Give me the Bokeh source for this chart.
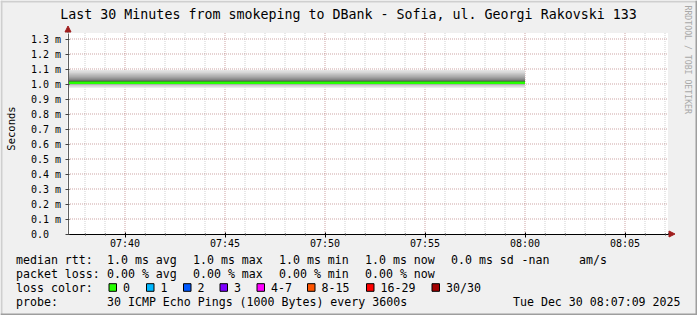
import math
from bokeh.plotting import figure
from bokeh.models import FixedTicker, Label, Arrow, NormalHead, LinearAxis, Range1d
from bokeh.embed import file_html
from bokeh.resources import INLINE

FONT = "DejaVu Sans Mono"

# ---------------- data ----------------
title_text = "Last 30 Minutes from smokeping to DBank - Sofia, ul. Georgi Rakovski 133"
y_axis_title = "Seconds"
watermark_text = "RRDTOOL / TOBI OETIKER"

# time in minutes after 07:00
window_min = [37 + 9 / 60, 67 + 9 / 60]          # 07:37:09 .. 08:07:09
row_times = [37 + 9 / 60, 60.0]                   # data present until 08:00
y_top = 1.34                                      # top of the value axis (ms)

# 30 sorted ping round trip times (ms), constant over the window
pings_ms = [0.975, 0.983, 0.990, 0.993, 0.996, 0.998, 1.000, 1.001, 1.002, 1.003,
            1.004, 1.005, 1.006, 1.007, 1.008,
            1.015, 1.016, 1.017, 1.019, 1.021, 1.025, 1.029, 1.035, 1.041, 1.049,
            1.057, 1.065, 1.073, 1.083, 1.093]
median_ms = [1.009, 1.009]

x_ticks = [40, 45, 50, 55, 60, 65]
x_tick_labels = ["07:40", "07:45", "07:50", "07:55", "08:00", "08:05"]
y_ticks = [0.0, 0.1, 0.2, 0.3, 0.4, 0.5, 0.6, 0.7, 0.8, 0.9, 1.0, 1.1, 1.2, 1.3]
y_tick_labels = ["0.0\u00a0\u00a0", "0.1 m", "0.2 m", "0.3 m", "0.4 m", "0.5 m", "0.6 m",
                 "0.7 m", "0.8 m", "0.9 m", "1.0 m", "1.1 m", "1.2 m", "1.3 m"]

rtt_heading = "median rtt:"
rtt_items = ["1.0 ms avg", "1.0 ms max", "1.0 ms min", "1.0 ms now", "0.0 ms sd", "-nan", "am/s"]
loss_heading = "packet loss:"
loss_items = ["0.00 % avg", "0.00 % max", "0.00 % min", "0.00 % now"]
color_heading = "loss color:"
loss_labels = ["0", "1", "2", "3", "4-7", "8-15", "16-29", "30/30"]
loss_colors = ["#26ff00", "#00b8ff", "#0059ff", "#7e00ff", "#ff00ff", "#ff5500", "#ff0000", "#a10000"]
probe_heading = "probe:"
probe_text = "30 ICMP Echo Pings (1000 Bytes) every 3600s"
stamp_text = "Tue Dec 30 08:07:09 2025"

# ---------------- layout constants ----------------
W, H = 697, 315
PXX, PXY = 20.0, 150.0          # pixels per minute, pixels per ms
OX, OY = 67.5, 233.5            # canvas pixel of (window start, 0 ms)
X0, X1 = window_min

xr = Range1d(X0 - OX / PXX, X0 + (W - OX) / PXX)
yr = Range1d((OY - H) / PXY, OY / PXY)


def dx(cx):
    return xr.start + cx / PXX


def dy(cy):
    return yr.end - cy / PXY


p = figure(width=W, height=H, x_range=xr, y_range=yr, x_axis_type=None, y_axis_type=None,
           output_backend="svg", toolbar_location=None, min_border=0,
           min_border_left=0, min_border_right=0, min_border_top=0, min_border_bottom=0,
           background_fill_color="#F0F0F0", border_fill_color="#F0F0F0", outline_line_color=None)
p.title.visible = False

# image border shading (light top/left, dark bottom/right)
p.quad(left=[dx(0), dx(0)], right=[dx(W), dx(2)], top=[dy(0), dy(0)], bottom=[dy(2), dy(H)],
       fill_color="#CFCFCF", line_color=None)
p.quad(left=[dx(W - 2), dx(0)], right=[dx(W), dx(W)], top=[dy(0), dy(H - 2)], bottom=[dy(H), dy(H)],
       fill_color="#9E9E9E", line_color=None)

# white canvas
p.quad(left=[X0 - 0.5 / PXX], right=[X1], top=[y_top], bottom=[0], fill_color="white", line_color=None)

# grid
minor_x = [m for m in range(38, 68) if m % 5 != 0]
p.segment(x0=minor_x, x1=minor_x, y0=[0] * len(minor_x), y1=[y_top] * len(minor_x),
          line_color="#8C8C8C", line_alpha=0.4, line_width=1, line_dash="1 1")
p.segment(x0=x_ticks, x1=x_ticks, y0=[0] * len(x_ticks), y1=[y_top] * len(x_ticks),
          line_color="#821E1E", line_alpha=0.4, line_width=1, line_dash="1 1")
gy = y_ticks[1:]
p.segment(x0=[X0] * len(gy), x1=[X1] * len(gy), y0=gy, y1=gy,
          line_color="#821E1E", line_alpha=0.4, line_width=1, line_dash="1 1")

# smoke: pairs of pings, outer pairs light, inner pairs dark
n = len(pings_ms)
half = n // 2
for ib in range(half):
    it = n - 1 - ib
    c = int(190 / half * (half - (ib + 1))) + 50
    col = "#%02x%02x%02x" % (c, c, c)
    p.varea(x=row_times, y1=[pings_ms[ib]] * len(row_times), y2=[pings_ms[it]] * len(row_times),
            fill_color=col, fill_alpha=1)

p.line(row_times, median_ms, line_color=loss_colors[0], line_width=2.5)

# axes drawn at fixed locations inside the full-canvas frame
xa = LinearAxis(fixed_location=0, bounds=(X0, X1))
xa.ticker = FixedTicker(ticks=x_ticks, minor_ticks=minor_x)
xa.major_label_overrides = {t: l for t, l in zip(x_ticks, x_tick_labels)}
xa.axis_line_color = "black"
xa.major_tick_line_color = "black"
xa.major_tick_out = 3
xa.major_tick_in = 2
xa.minor_tick_line_color = "#404040"
xa.minor_tick_out = 1
xa.minor_tick_in = 1
xa.major_label_standoff = 1
xa.major_label_text_font = FONT
xa.major_label_text_font_size = "10px"
xa.major_label_text_color = "black"
p.add_layout(xa, "below")

ya = LinearAxis(fixed_location=X0, bounds=(0, y_top))
ya.ticker = FixedTicker(ticks=y_ticks, minor_ticks=[])
ya.major_label_overrides = {t: l for t, l in zip(y_ticks, y_tick_labels)}
ya.axis_line_color = "#606060"
ya.major_tick_line_color = "#404040"
ya.major_tick_out = 3
ya.major_tick_in = 1
ya.minor_tick_out = 0
ya.minor_tick_in = 0
ya.major_label_standoff = 4
ya.major_label_text_font = FONT
ya.major_label_text_font_size = "10px"
ya.major_label_text_color = "black"
p.add_layout(ya, "left")

# axis arrows
ARROW = "#a01e1e"
p.add_layout(Arrow(x_start=X0, y_start=y_top, x_end=X0, y_end=y_top + 7 / PXY,
                   line_color="#606060", line_width=1,
                   end=NormalHead(size=6, fill_color=ARROW, line_color=ARROW, line_width=1)))
p.add_layout(Arrow(x_start=X1, y_start=0, x_end=X1 + 7 / PXX, y_end=0,
                   line_color="black", line_width=1,
                   end=NormalHead(size=6, fill_color=ARROW, line_color=ARROW, line_width=1)))


def text(cx, cy, s, size="11.6px", align="left", color="black", angle=0.0):
    p.add_layout(Label(x=dx(cx), y=dy(cy), text=s,
                       text_font=FONT, text_font_size=size, text_color=color,
                       text_align=align, text_baseline="middle", angle=angle))


# title, axis title, watermark
text(348, 14, title_text, size="13.3px", align="center")
text(10, 128, y_axis_title, size="10.5px", align="center", angle=math.pi / 2)
text(687, 5, watermark_text, size="8.2px", color="#a8a8a8", angle=-math.pi / 2)

# legend rows
r1, r2, r3, r4 = 259, 273, 287, 301
text(15.5, r1, rtt_heading)
for s, x in zip(rtt_items, [106.5, 192.5, 278.5, 364.5, 450.5, 521, 578.5]):
    text(x, r1, s)
text(15.5, r2, loss_heading)
for s, x in zip(loss_items, [106.5, 192.5, 278.5, 364.5]):
    text(x, r2, s)
text(15.5, r3, color_heading)
box_x = [108, 145.5, 182.5, 219, 256, 306.5, 365.5, 431]
p.quad(left=[dx(x + 0.5) for x in box_x], right=[dx(x + 8) for x in box_x],
       top=[dy(r3 - 3.8)] * len(box_x), bottom=[dy(r3 + 3.8)] * len(box_x),
       fill_color=loss_colors, line_color="black", line_width=1)
for s, x in zip(loss_labels, box_x):
    text(x + 14.5, r3, s)
text(15.5, r4, probe_heading)
text(106.5, r4, probe_text)
text(680, r4, stamp_text, align="right")

open("out.html", "w").write(file_html(p, INLINE))
